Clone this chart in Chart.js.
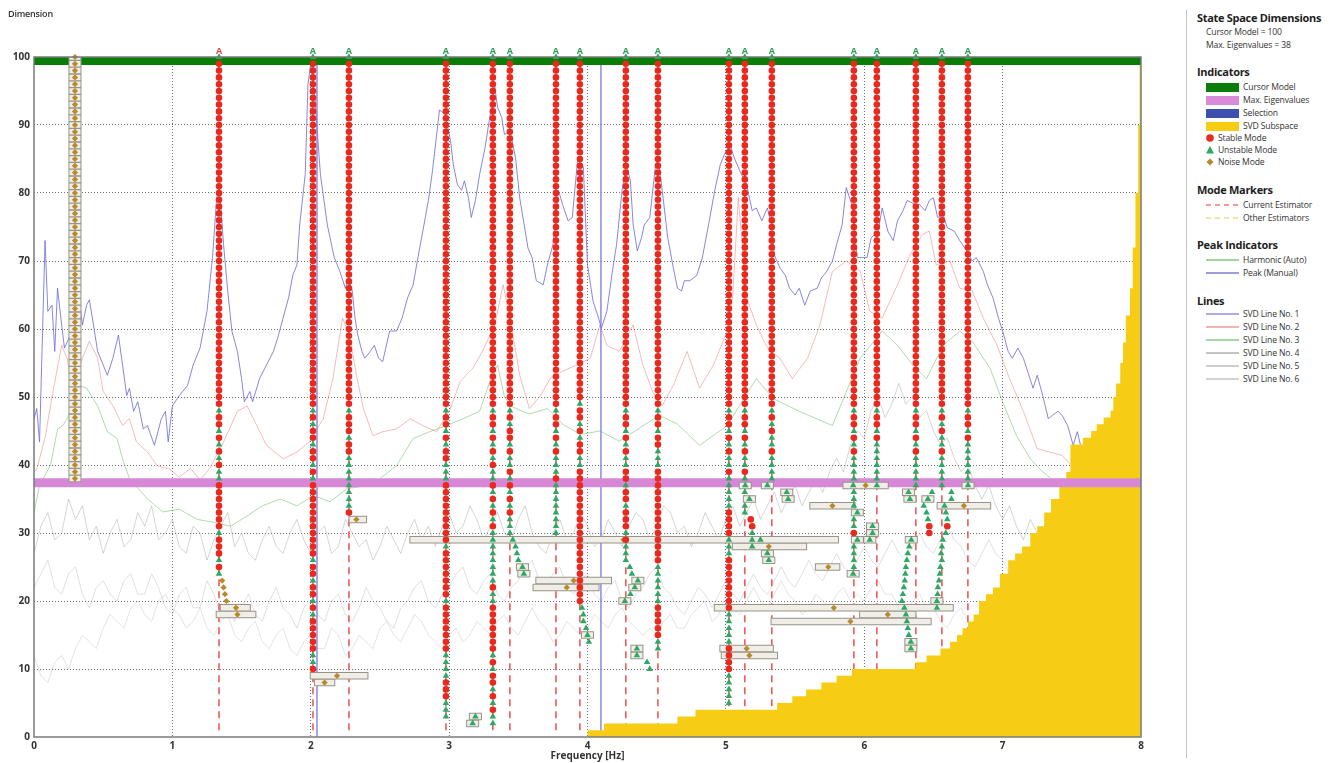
<!DOCTYPE html>
<html>
<head>
<meta charset="utf-8">
<title>Stabilization diagram</title>
<script src="https://cdn.jsdelivr.net/npm/chart.js@4.4.1/dist/chart.umd.min.js"></script>
<style>
  html, body { margin: 0; padding: 0; background: #fff; }
  body { width: 1334px; height: 763px; position: relative; overflow: hidden; font-family: "Open Sans", "Noto Sans", sans-serif; color: #222; }
  #plotBox { position: absolute; left: 0; top: 0; width: 1160px; height: 763px; }
  #dimLabel { position: absolute; left: 8px; top: 7px; font-size: 9px; font-weight: 600; color: #333; letter-spacing: -0.2px; }
  #divider { position: absolute; left: 1186px; top: 10px; width: 1px; height: 748px; background: #c4c4c4; }
  .lg { position: absolute; white-space: nowrap; line-height: 12px; }
  .hd { font-size: 11px; font-weight: 700; color: #1e1e1e; letter-spacing: -0.3px; }
  .it { font-size: 8.6px; color: #333; letter-spacing: -0.15px; }
  .sw { position: absolute; width: 33px; height: 9px; }
  svg.mk { position: absolute; overflow: visible; }
</style>
</head>
<body>
<div id="plotBox"><canvas id="stabChart"></canvas></div>
<div id="dimLabel">Dimension</div>
<div id="divider"></div>

<div class="lg hd" style="left:1197px;top:12px">State Space Dimensions</div>
<div class="lg it" id="cmText" style="left:1206px;top:26px"></div>
<div class="lg it" id="meText" style="left:1206px;top:39px"></div>

<div class="lg hd" style="left:1197px;top:66px">Indicators</div>
<div class="sw" style="left:1206px;top:83px;background:#0a7d0a"></div>
<div class="lg it" style="left:1243px;top:81px">Cursor Model</div>
<div class="sw" style="left:1206px;top:96px;background:#d98bd9"></div>
<div class="lg it" style="left:1243px;top:94px">Max. Eigenvalues</div>
<div class="sw" style="left:1206px;top:109px;background:#3e4fb0"></div>
<div class="lg it" style="left:1243px;top:107px">Selection</div>
<div class="sw" style="left:1206px;top:122px;background:#f6cd14"></div>
<div class="lg it" style="left:1243px;top:120px">SVD Subspace</div>
<svg class="mk" style="left:1205px;top:133px" width="10" height="10"><circle cx="5" cy="5" r="3.8" fill="#e8291e"/></svg>
<div class="lg it" style="left:1218px;top:132px">Stable Mode</div>
<svg class="mk" style="left:1205px;top:145px" width="10" height="10"><polygon points="5,1 9,8.5 1,8.5" fill="#2fa865"/></svg>
<div class="lg it" style="left:1218px;top:144px">Unstable Mode</div>
<svg class="mk" style="left:1205px;top:157px" width="10" height="10"><polygon points="5,1.5 8.5,5 5,8.5 1.5,5" fill="#b88a2a"/></svg>
<div class="lg it" style="left:1218px;top:156px">Noise Mode</div>

<div class="lg hd" style="left:1197px;top:184px">Mode Markers</div>
<svg class="mk" style="left:1206px;top:200px" width="33" height="10"><line x1="0" y1="5" x2="33" y2="5" stroke="#f07a7a" stroke-width="1.3" stroke-dasharray="5,4"/></svg>
<div class="lg it" style="left:1243px;top:199px">Current Estimator</div>
<svg class="mk" style="left:1206px;top:213px" width="33" height="10"><line x1="0" y1="5" x2="33" y2="5" stroke="#ecdc8c" stroke-width="1.3" stroke-dasharray="5,4"/></svg>
<div class="lg it" style="left:1243px;top:212px">Other Estimators</div>

<div class="lg hd" style="left:1197px;top:239px">Peak Indicators</div>
<svg class="mk" style="left:1206px;top:255px" width="33" height="10"><line x1="0" y1="5" x2="33" y2="5" stroke="#7cc87c" stroke-width="1.3"/></svg>
<div class="lg it" style="left:1243px;top:254px">Harmonic (Auto)</div>
<svg class="mk" style="left:1206px;top:268px" width="33" height="10"><line x1="0" y1="5" x2="33" y2="5" stroke="#7a7ad2" stroke-width="1.3"/></svg>
<div class="lg it" style="left:1243px;top:267px">Peak (Manual)</div>

<div class="lg hd" style="left:1197px;top:295px">Lines</div>
<div id="lineKeys"></div>

<script>
// state space settings shown in the side panel
const cursorModel = 100;
const maxEigen = 38;

// vertical indicators
const selectionFreq = 4.097;
const manualPeakFreq = 2.045;

// identified modes (dashed markers + "A" tags); flag 1 = tag drawn red
const modeFreqs = [1.337, 2.016, 2.276, 2.977, 3.316, 3.439, 3.772, 3.945, 4.277, 4.509, 5.022, 5.137, 5.332, 5.925, 6.091, 6.373, 6.561, 6.749];
const modeTagFlag = [1, 0, 0, 0, 0, 0, 0, 0, 0, 0, 0, 0, 0, 0, 0, 0, 0, 0];

// stabilization columns: state per model order, order 100 first, groups of ten
// o = stable, ^ = unstable, # = noise (boxed), . = nothing
const noiseColumnFreq = 0.296;
const columnFreqs = [noiseColumnFreq].concat(modeFreqs);
const columnStates = [
  "########## ########## ########## ########## ########## ########## ###....... .......... .......... ..........",
  "^ooooooooo oooooooooo oooooooooo oooooooooo oooooooooo oo^oo^o^o^ o^^ooooooo ^ooo^o^... .......... ..........",
  "^ooooooooo oooooooooo oooooooooo oooooooooo oooooooooo oo^o^oo^oo ^o^ooooooo oooo^oo^oo ^o^ooooo^^ o.........",
  "^ooooooooo oooooooooo oooooooooo oooooooooo oooooooooo oo^ooo^oo^ ^^^^^^^o.. .......... .......... ..........",
  "^ooooooooo oooooooooo oooooooooo oooooooooo oooooooooo oo^oo^o^oo ^^^ooooooo oo^ooooooo ^ooooooo^^ ^^ooo^^^..",
  "^ooooooooo oooooooooo oooooooooo oooooooooo oooooooooo oo^oo^o^o^ o^^o^o^o^o ^^^^^^^^o^ ^ooooooo^o ^oo^o^o^^.",
  "^ooooooooo oooooooooo oooooooooo oooooooooo oooooooooo oo^o^oo^o^ ^o^o^o^o^^ ^......... .......... ..........",
  "^ooooooooo oooooooooo oooooooooo oooooooooo oooooooooo oo^oo^o^o^ ^^o^^^^^^^ ^......... .......... ..........",
  "^ooooooooo oooooooooo oooooooooo oooooooooo oooooooooo o^oo^o^oo^ ^ooooooooo oooooooooo o......... ..........",
  "^ooooooooo oooooooooo oooooooooo oooooooooo oooooooooo oo^oo^o^o^ ^oo^oo^ooo ^o^^^..... .......... ..........",
  "^ooooooooo oooooooooo oooooooooo oooooooooo oooooooooo oo^oo^oo^^ ^ooooooooo ooooo^^^^^ ^ooooo^^.. ..........",
  "^ooooooooo oooooooooo oooooooooo oooooooooo oooooooooo oo^oo^o^o^ ^o^^^^^ooo o^^^oooooo oo^^^^^ooo o^^^^^....",
  "^ooooooooo oooooooooo oooooooooo oooooooooo oooooooooo oo^oo^o^o^ ^o^.^.^^.. .......... .......... ..........",
  "^ooooooooo oooooooooo oooooooooo oooooooooo oooooooooo oo^o^o^^o^ ^^^....... .......... .......... ..........",
  "^ooooooooo oooooooooo oooooooooo oooooooooo oooooooooo oo^oo^o^o^ ^^^.^^^.^^ o.^^^^.... .......... ..........",
  "^ooooooooo oooooooooo oooooooooo oooooooooo oooooooooo oo^oo^o^^^ ^^^^...... .......... .......... ..........",
  "^ooooooooo oooooooooo oooooooooo oooooooooo oooooooooo oo^oo^o^o^ ^^^^...... .......... .......... ..........",
  "^ooooooooo oooooooooo oooooooooo oooooooooo oooooooooo oo^o^o^^o^ ^^^^...... .......... .......... ..........",
  "^ooooooooo oooooooooo oooooooooo oooooooooo oooooooooo oo^oo^o^^^ ^^^....... .......... .......... .........."
];

// poles that drift off their column: [frequency, order]
const extraStable = [[5.18, 32], [5.19, 31], [6.47, 31], [6.47, 30], [6.60, 31]];
const extraUnstable = [
  [3.46, 29], [3.48, 28], [3.49, 27], [3.50, 26],
  [3.96, 19], [3.97, 18], [3.97, 17], [3.99, 16], [4.01, 14],
  [4.306, 25], [4.321, 24], [4.31, 21], [4.43, 11], [4.45, 10],
  [5.19, 30], [5.19, 29],
  [6.43, 34], [6.45, 33], [6.46, 32],
  [6.325, 28], [6.315, 27], [6.308, 26], [6.301, 25], [6.297, 24], [6.293, 23], [6.286, 22], [6.279, 21],
  [6.272, 20], [6.29, 19], [6.301, 18], [6.308, 17], [6.315, 16], [6.322, 15],
  [6.58, 34], [6.59, 33], [6.60, 32], [6.59, 30],
  [6.568, 29], [6.561, 28], [6.556, 27], [6.561, 26], [6.55, 25], [6.546, 24], [6.54, 23], [6.532, 22], [6.53, 21],
  [6.49, 36], [6.63, 36], [6.63, 35]
];
const extraBoxedUnstable = [
  [3.53, 25], [3.54, 24], [4.00, 15], [4.364, 23], [4.342, 22], [4.27, 20], [4.357, 13], [4.357, 12],
  [3.19, 3], [3.17, 2],
  [5.14, 37], [5.17, 35], [5.19, 28], [5.25, 29], [5.30, 37], [5.30, 27], [5.31, 26], [5.44, 36], [5.45, 35],
  [5.92, 37], [5.95, 33], [5.95, 29], [5.92, 24],
  [6.06, 31], [6.06, 30], [6.04, 29],
  [6.32, 36], [6.33, 35], [6.46, 35], [6.34, 29], [6.337, 14], [6.337, 13],
  [6.525, 20], [6.525, 19], [6.75, 37]
];
const extraNoise = [[1.36, 23], [1.37, 22], [1.38, 21], [1.39, 20]];
// noise poles with a frequency spread: [low, high, order, centre]
const noiseBoxes = [
  [1.37, 1.54, 19, 1.46], [1.34, 1.58, 18, 1.47],
  [2.02, 2.39, 9, 2.19], [2.05, 2.15, 8, 2.10],
  [2.30, 2.38, 32, 2.33],
  [2.74, 5.79, 29, 4.26],
  [3.65, 4.15, 23, 3.90], [3.63, 4.06, 22, 3.85],
  [5.07, 5.56, 28, 5.31], [5.63, 5.91, 34, 5.77], [5.87, 6.15, 37, 6.01], [5.67, 5.80, 25, 5.74],
  [4.94, 6.62, 19, 5.78], [5.99, 6.35, 18, 6.17], [5.35, 6.46, 17, 5.90],
  [4.98, 5.32, 13, 5.15], [4.99, 5.35, 12, 5.17],
  [6.55, 6.89, 34, 6.72]
];

// SVD subspace dimension (step heights start at each frequency)
const subspaceSteps = [
  [4.00, 1], [4.12, 2], [4.65, 3], [4.78, 4], [5.37, 5], [5.48, 6], [5.58, 7], [5.69, 8], [5.80, 9], [5.91, 10],
  [6.37, 11], [6.45, 12], [6.55, 13], [6.62, 14], [6.67, 15], [6.71, 16], [6.75, 17], [6.79, 18], [6.83, 20],
  [6.88, 21], [6.93, 22], [6.98, 24], [7.04, 26], [7.09, 27], [7.14, 28], [7.20, 30], [7.25, 31], [7.30, 33],
  [7.35, 35], [7.41, 37], [7.46, 39], [7.49, 43], [7.58, 44], [7.64, 45], [7.68, 46], [7.73, 47], [7.78, 48],
  [7.80, 50], [7.82, 52], [7.85, 55], [7.87, 58], [7.89, 62], [7.92, 66], [7.94, 72], [7.96, 80], [7.98, 90],
  [7.99, 100], [8.00, 100]
];

// singular value lines, scaled to the dimension axis
const svdLine1 = [
  [0.00,46.8],[0.02,48.3],[0.04,43.4],[0.08,73.0],[0.10,62.6],[0.13,63.5],[0.15,56.7],[0.17,66.0],[0.20,60.6],[0.22,57.2],
  [0.26,59.0],[0.28,70.5],[0.30,69.0],[0.35,60.6],[0.38,63.5],[0.40,64.3],[0.43,60.6],[0.46,56.7],[0.49,55.2],[0.53,53.2],
  [0.57,55.7],[0.61,59.1],[0.64,54.7],[0.67,50.2],[0.69,51.3],[0.72,47.9],[0.75,49.3],[0.79,45.3],[0.82,45.8],[0.87,42.9],
  [0.92,46.8],[0.95,47.9],[0.97,43.4],[1.00,48.7],[1.05,50.2],[1.11,51.7],[1.15,54.7],[1.20,57.2],[1.25,62.6],[1.29,70.5],
  [1.32,79.3],[1.34,80.8],[1.37,72.4],[1.40,65.6],[1.43,59.7],[1.47,56.7],[1.50,52.7],[1.52,49.3],[1.56,50.8],[1.58,49.3],
  [1.63,52.7],[1.68,54.7],[1.73,56.7],[1.76,58.6],[1.80,61.6],[1.84,64.6],[1.87,67.9],[1.90,69.4],[1.92,75.3],[1.96,82.7],
  [1.98,96.0],[2.00,99.0],[2.03,94.0],[2.07,82.7],[2.12,75.3],[2.15,72.4],[2.17,70.5],[2.21,68.5],[2.25,66.0],[2.27,67.5],
  [2.30,65.6],[2.32,61.6],[2.34,59.1],[2.37,56.7],[2.39,55.7],[2.43,56.7],[2.46,57.6],[2.49,55.7],[2.52,55.2],[2.57,59.7],
  [2.62,59.7],[2.66,61.6],[2.70,64.6],[2.74,66.5],[2.77,70.0],[2.81,74.4],[2.85,78.9],[2.88,83.3],[2.91,88.6],[2.93,92.2],
  [2.97,91.6],[3.01,87.7],[3.03,84.2],[3.06,81.2],[3.09,80.4],[3.11,81.8],[3.14,79.3],[3.16,76.4],[3.19,78.9],[3.22,82.7],
  [3.26,86.7],[3.29,90.7],[3.33,95.6],[3.35,92.6],[3.38,91.1],[3.40,88.6],[3.44,89.2],[3.48,85.2],[3.51,79.3],[3.55,74.4],
  [3.57,71.9],[3.60,70.5],[3.63,67.1],[3.68,66.5],[3.71,69.4],[3.75,72.4],[3.79,80.4],[3.82,78.3],[3.86,75.9],[3.89,76.4],
  [3.93,85.2],[3.97,83.8],[4.00,69.4],[4.04,64.1],[4.08,61.6],[4.10,60.1],[4.14,62.6],[4.18,68.5],[4.21,72.4],[4.25,80.4],
  [4.28,84.2],[4.31,81.8],[4.33,75.3],[4.36,71.5],[4.39,73.4],[4.41,75.3],[4.45,76.4],[4.49,83.8],[4.51,85.2],[4.54,80.4],
  [4.58,73.4],[4.62,69.0],[4.65,66.0],[4.68,65.6],[4.70,67.1],[4.74,67.1],[4.79,67.9],[4.83,70.5],[4.88,75.9],[4.92,80.4],
  [4.96,84.2],[4.99,85.7],[5.03,87.1],[5.06,85.2],[5.10,83.3],[5.15,81.2],[5.19,77.4],[5.22,77.8],[5.26,75.9],[5.30,77.8],
  [5.33,75.3],[5.35,70.9],[5.39,69.0],[5.43,67.9],[5.46,66.0],[5.50,65.0],[5.53,66.0],[5.57,63.5],[5.61,65.6],[5.66,66.0],
  [5.69,67.5],[5.73,68.5],[5.77,70.0],[5.80,72.4],[5.84,75.3],[5.87,80.8],[5.91,78.3],[5.95,70.5],[5.98,70.5],[6.02,70.5],
  [6.05,73.4],[6.10,74.4],[6.13,77.8],[6.17,74.4],[6.21,73.0],[6.24,75.9],[6.28,77.4],[6.31,78.9],[6.37,78.3],[6.40,78.3],
  [6.44,77.4],[6.47,78.9],[6.50,79.3],[6.53,76.4],[6.57,76.8],[6.60,74.9],[6.65,74.4],[6.69,73.0],[6.74,71.5],[6.78,70.0],
  [6.81,70.5],[6.86,68.5],[6.89,66.5],[6.93,64.6],[6.97,61.6],[7.00,59.7],[7.04,56.7],[7.07,55.7],[7.11,57.2],[7.15,55.7],
  [7.18,53.8],[7.22,51.3],[7.25,53.2],[7.29,50.2],[7.33,46.8],[7.36,47.3],[7.40,47.9],[7.43,47.3],[7.47,45.8],[7.51,42.9],
  [7.54,44.9],[7.58,41.4],[7.65,42.5],[7.72,43.4],[7.80,47.3],[7.85,44.3],[7.90,40.5],[7.97,42.4],[8.00,41.5]
];
const svdLine2 = [
  [0.00,39.0],[0.02,39.4],[0.08,44.0],[0.13,50.0],[0.20,57.6],[0.24,55.7],[0.28,50.8],[0.35,55.7],[0.40,58.2],[0.46,55.7],
  [0.50,50.8],[0.57,48.7],[0.64,45.8],[0.69,46.8],[0.74,43.4],[0.82,41.9],[0.89,39.9],[0.98,39.4],[1.05,38.2],[1.13,39.5],
  [1.20,37.8],[1.27,39.5],[1.37,43.4],[1.47,47.9],[1.54,48.7],[1.61,45.8],[1.68,42.9],[1.80,40.9],[1.90,41.9],[1.99,43.4],
  [2.09,46.8],[2.16,52.7],[2.23,61.6],[2.28,59.1],[2.33,53.2],[2.38,48.3],[2.45,44.3],[2.52,44.9],[2.62,45.3],[2.72,46.8],
  [2.81,45.8],[2.91,44.9],[3.01,48.3],[3.08,52.3],[3.17,54.2],[3.24,56.7],[3.33,60.6],[3.39,66.5],[3.44,61.6],[3.51,53.2],
  [3.58,48.3],[3.66,50.2],[3.73,52.7],[3.82,53.8],[3.92,54.7],[4.02,55.7],[4.09,60.6],[4.14,57.6],[4.23,56.7],[4.33,60.6],
  [4.40,54.7],[4.47,50.8],[4.54,48.7],[4.62,51.7],[4.72,56.7],[4.81,51.3],[4.91,54.7],[5.01,59.7],[5.05,65.0],[5.09,79.3],
  [5.15,64.6],[5.22,60.6],[5.30,57.2],[5.39,55.7],[5.48,52.7],[5.59,55.7],[5.68,60.6],[5.77,68.5],[5.87,70.0],[5.97,68.5],
  [6.04,62.6],[6.13,61.6],[6.24,66.5],[6.33,70.9],[6.42,73.9],[6.47,74.4],[6.52,69.4],[6.62,70.0],[6.69,66.0],[6.78,65.6],
  [6.86,61.6],[6.96,57.6],[7.05,52.7],[7.15,47.9],[7.25,42.4],[7.34,41.9],[7.43,41.4],[7.54,39.0],[7.63,37.0],[7.70,34.0],
  [7.77,38.0],[7.85,33.0],[7.92,36.0],[8.00,35.0]
];
const svdLine3 = [
  [0.00,33.0],[0.04,37.0],[0.12,40.0],[0.17,45.3],[0.21,45.8],[0.27,48.0],[0.33,51.7],[0.38,51.3],[0.46,48.7],[0.53,44.9],
  [0.60,43.9],[0.64,40.9],[0.69,38.0],[0.82,35.0],[0.93,33.1],[1.05,33.5],[1.18,32.0],[1.29,31.6],[1.42,31.0],[1.54,32.5],
  [1.65,34.0],[1.78,35.0],[1.90,34.0],[2.02,35.5],[2.14,34.6],[2.26,36.5],[2.38,36.9],[2.50,38.0],[2.62,39.9],[2.74,43.9],
  [2.86,44.9],[2.98,45.8],[3.10,46.8],[3.22,47.9],[3.29,52.0],[3.35,54.7],[3.40,50.0],[3.46,48.5],[3.58,47.5],[3.71,48.3],
  [3.82,46.0],[3.95,44.5],[4.09,45.0],[4.23,43.5],[4.38,45.5],[4.52,47.3],[4.65,46.0],[4.81,42.9],[5.01,45.8],[5.22,52.7],
  [5.34,49.8],[5.53,47.9],[5.77,45.8],[5.97,55.7],[6.13,59.7],[6.24,57.6],[6.35,54.7],[6.45,52.7],[6.57,57.6],[6.69,59.7],
  [6.78,58.2],[6.91,54.2],[7.00,49.3],[7.10,44.3],[7.20,40.9],[7.29,39.0],[7.41,37.0],[7.56,35.5],[7.70,38.0],[7.85,34.0],
  [8.00,36.0]
];
// the three weakest lines are sampled on a 0.05 Hz grid starting at 0 Hz
const lowLineStep = 0.05;
const svdLine4Values = [
  27,31,33,29,30,35,32,34,29,31, 27,30,32,28,29,33,31,34,29,30,
  32,28,27,31,30,26,29,31,33,28, 30,27,26,29,31,28,27,30,32,29,
  27,30,31,27,28,32,30,28,29,26, 28,31,29,27,30,32,29,31,28,31,
  33,30,31,34,32,29,31,33,30,29, 32,34,30,28,27,30,32,29,30,33,
  31,28,29,32,30,28,31,33,32,29, 31,34,33,30,31,28,30,33,31,29,
  32,34,31,33,35,32,34,36,33,35, 37,34,36,38,36,39,41,39,43,45,
  44,48,50,47,49,52,49,50,47,48, 45,43,44,41,39,40,37,35,37,34,
  32,34,31,29,32,30,27,30,31,27, 25,28,30,26,24,27,29,25,23,26, 27
];
const svdLine5Values = [
  22,24,26,22,21,24,25,21,19,22, 23,21,20,23,24,21,21,24,22,19,
  18,21,22,19,19,23,21,18,20,17, 19,21,18,17,20,22,19,18,16,19,
  20,18,17,20,21,18,17,19,22,20, 19,17,16,19,20,22,23,20,19,21,
  22,24,25,22,21,23,24,21,20,22, 23,25,26,23,22,24,25,22,21,23,
  24,21,20,22,23,20,19,21,22,24, 25,22,21,19,18,20,22,21,19,21,
  23,21,20,22,24,22,21,23,25,23, 22,24,26,24,23,25,27,25,24,26,
  28,26,25,27,29,27,26,28,30,28, 27,29,31,29,28,26,25,27,29,27,
  26,24,22,23,25,23,21,22,24,22, 19,21,22,19,17,18,20,17,15,17, 18
];
const svdLine6Values = [
  12,9,8,11,12,10,13,15,14,13, 16,18,17,16,19,20,18,17,20,21,
  19,18,16,17,19,16,15,17,18,15, 14,16,17,14,13,15,16,13,12,14,
  15,13,13,16,15,12,13,15,14,13, 16,17,15,14,16,18,17,15,14,13,
  15,16,14,15,17,16,15,17,18,16, 15,17,19,17,16,14,15,17,16,15,
  16,18,17,16,18,19,17,16,15,16, 15,17,18,16,16,18,19,20,17,18,
  21,19,18,20,22,20,19,21,23,21, 20,18,19,21,20,19,21,22,20,21,
  20,22,23,21,21,19,18,20,21,19, 19,17,16,18,19,17,15,16,18,16,
  14,15,17,14,12,13,15,12,10,12, 13,10,8,9,11,8,6,7,9,7, 5
];
const gridded = vals => vals.map((v, i) => [+(i * lowLineStep).toFixed(2), v]);

const svdLines = [svdLine1, svdLine2, svdLine3, gridded(svdLine4Values), gridded(svdLine5Values), gridded(svdLine6Values)];
const svdColors = ['rgba(105,105,215,0.8)', 'rgba(238,120,120,0.5)', 'rgba(95,185,95,0.5)',
                   'rgba(150,150,150,0.4)', 'rgba(165,165,165,0.35)', 'rgba(175,175,175,0.35)'];

// ---- side panel ----
document.getElementById('cmText').textContent = 'Cursor Model = ' + cursorModel;
document.getElementById('meText').textContent = 'Max. Eigenvalues = ' + maxEigen;
const keys = document.getElementById('lineKeys');
svdLines.forEach((_, i) => {
  const y = 308 + i * 13;
  keys.insertAdjacentHTML('beforeend',
    `<svg class="mk" style="left:1206px;top:${y + 1}px" width="33" height="10"><line x1="0" y1="5" x2="33" y2="5" stroke="${svdColors[i].replace(/[\d.]+\)$/, '1)')}" stroke-opacity="0.75" stroke-width="1.3"/></svg>` +
    `<div class="lg it" style="left:1243px;top:${y}px">SVD Line No. ${i + 1}</div>`);
});

// ---- build marker / segment data ----
const pt = (x, y) => ({ x, y });
const gap = x => ({ x, y: null });
const stablePts = [], unstablePts = [], noisePts = [], boxPath = [];
const BOX_HALF = 0.02;
function addBox(lo, hi, order) { boxPath.push(pt(lo, order), pt(hi, order), gap(hi)); }

columnFreqs.forEach((f, i) => {
  const states = columnStates[i].replace(/\s/g, '');
  [...states].forEach((c, k) => {
    const order = 100 - k;
    if (c === 'o') stablePts.push(pt(f, order));
    else if (c === '^') unstablePts.push(pt(f, order));
    else if (c === '#') { noisePts.push(pt(f, order)); addBox(f - BOX_HALF, f + BOX_HALF, order); }
  });
});
extraStable.forEach(([f, n]) => stablePts.push(pt(f, n)));
extraUnstable.forEach(([f, n]) => unstablePts.push(pt(f, n)));
extraBoxedUnstable.forEach(([f, n]) => { unstablePts.push(pt(f, n)); addBox(f - BOX_HALF, f + BOX_HALF, n); });
extraNoise.forEach(([f, n]) => noisePts.push(pt(f, n)));
noiseBoxes.forEach(([lo, hi, n, c]) => { addBox(lo, hi, n); noisePts.push(pt(c, n)); });

const markerLines = [];
modeFreqs.forEach(f => markerLines.push(pt(f, 1), pt(f, 100), gap(f)));

const indicatorLines = [pt(selectionFreq, 0), pt(selectionFreq, 100), gap(selectionFreq),
                        pt(manualPeakFreq, 0), pt(manualPeakFreq, 100), gap(manualPeakFreq)];

const lineSet = (data, color, width, order, extra) => Object.assign({
  type: 'line', data, borderColor: color, borderWidth: width, pointRadius: 0,
  fill: false, tension: 0, spanGaps: false, order
}, extra || {});

const datasets = [];
svdLines.forEach((ln, i) => datasets.push(lineSet(ln.map(([x, y]) => pt(x, y)), svdColors[i], 1, 30 - i)));
datasets.push(lineSet(markerLines, 'rgb(240,78,78)', 1.5, 16, { borderDash: [7, 5] }));
datasets.push(lineSet(indicatorLines, 'rgba(125,125,232,0.9)', 1.5, 15));
datasets.push(lineSet(subspaceSteps.map(([x, y]) => pt(x, y)), '#f6cd14', 0, 12,
  { stepped: true, fill: 'origin', backgroundColor: '#f6cd14', blend: 'multiply' }));
datasets.push(lineSet([pt(0, cursorModel - 0.6), pt(8, cursorModel - 0.6)], 'rgb(8,125,8)', 8, 10));
datasets.push(lineSet([pt(0, maxEigen - 0.6), pt(8, maxEigen - 0.6)], 'rgb(214,136,214)', 9, 9));
datasets.push(lineSet(boxPath, 'rgb(150,148,138)', 7.5, 7, { borderCapStyle: 'square' }));
datasets.push(lineSet(boxPath, 'rgb(240,238,230)', 5.5, 6, { borderCapStyle: 'square' }));
datasets.push({ type: 'line', data: noisePts, showLine: false, pointStyle: 'rectRot', pointRadius: 3.1,
  backgroundColor: '#b88a2a', borderWidth: 0, order: 3, clip: false });
datasets.push({ type: 'line', data: unstablePts, showLine: false, pointStyle: 'triangle', pointRadius: 3.8,
  backgroundColor: '#2fa865', borderWidth: 0, order: 2, clip: false });
datasets.push({ type: 'line', data: stablePts, showLine: false, pointStyle: 'circle', pointRadius: 3.3,
  backgroundColor: '#e8291e', borderWidth: 0, order: 1, clip: false });

// yellow subspace area is multiplied over what lies beneath it
const blendPlugin = {
  id: 'blend',
  beforeDatasetDraw(chart, args) {
    const ds = chart.data.datasets[args.index];
    if (ds.blend) { chart.ctx.save(); chart.ctx.globalCompositeOperation = ds.blend; }
  },
  afterDatasetDraw(chart, args) {
    if (chart.data.datasets[args.index].blend) chart.ctx.restore();
  }
};

// plot frame and the "A" tags above each identified mode
const framePlugin = {
  id: 'frame',
  afterDatasetsDraw(chart) {
    const { ctx, chartArea: a, scales: { x } } = chart;
    ctx.save();
    ctx.strokeStyle = '#7a7a7a';
    ctx.lineWidth = 1.5;
    ctx.strokeRect(a.left, a.top, a.right - a.left, a.bottom - a.top);
    ctx.font = 'bold 9px "Open Sans", sans-serif';
    ctx.textAlign = 'center';
    ctx.textBaseline = 'alphabetic';
    modeFreqs.forEach((f, i) => {
      ctx.fillStyle = modeTagFlag[i] ? '#e5473c' : '#2f9e55';
      ctx.fillText('A', x.getPixelForValue(f), a.top - 3);
    });
    ctx.restore();
  }
};

const gridColor = (lo, hi) => c => (c.tick.value === lo || c.tick.value === hi) ? 'rgba(0,0,0,0)' : '#707070';

Chart.defaults.font.family = '"Open Sans", sans-serif';
new Chart(document.getElementById('stabChart'), {
  type: 'line',
  data: { datasets },
  options: {
    responsive: true,
    maintainAspectRatio: false,
    animation: false,
    events: [],
    layout: { padding: { top: 57, right: 19, left: 0, bottom: 0 } },
    plugins: { legend: { display: false }, tooltip: { enabled: false } },
    scales: {
      x: {
        type: 'linear', min: 0, max: 8,
        ticks: { stepSize: 1, color: '#333', font: { size: 10, weight: 'bold' }, padding: 3, maxRotation: 0 },
        grid: { color: gridColor(0, 8), lineWidth: 1, drawTicks: false },
        border: { display: false, dash: [1, 2] },
        title: { display: true, text: 'Frequency [Hz]', color: '#333', font: { size: 10, weight: 'bold' }, padding: { top: 0, bottom: 1 } },
        afterFit: s => { s.height = 26; }
      },
      y: {
        type: 'linear', min: 0, max: 100,
        ticks: { stepSize: 10, color: '#333', font: { size: 10, weight: 'bold' }, padding: 4 },
        grid: { color: gridColor(0, 100), lineWidth: 1, drawTicks: false },
        border: { display: false, dash: [1, 2] },
        afterFit: s => { s.width = 34; }
      }
    }
  },
  plugins: [blendPlugin, framePlugin]
});
</script>
</body>
</html>
